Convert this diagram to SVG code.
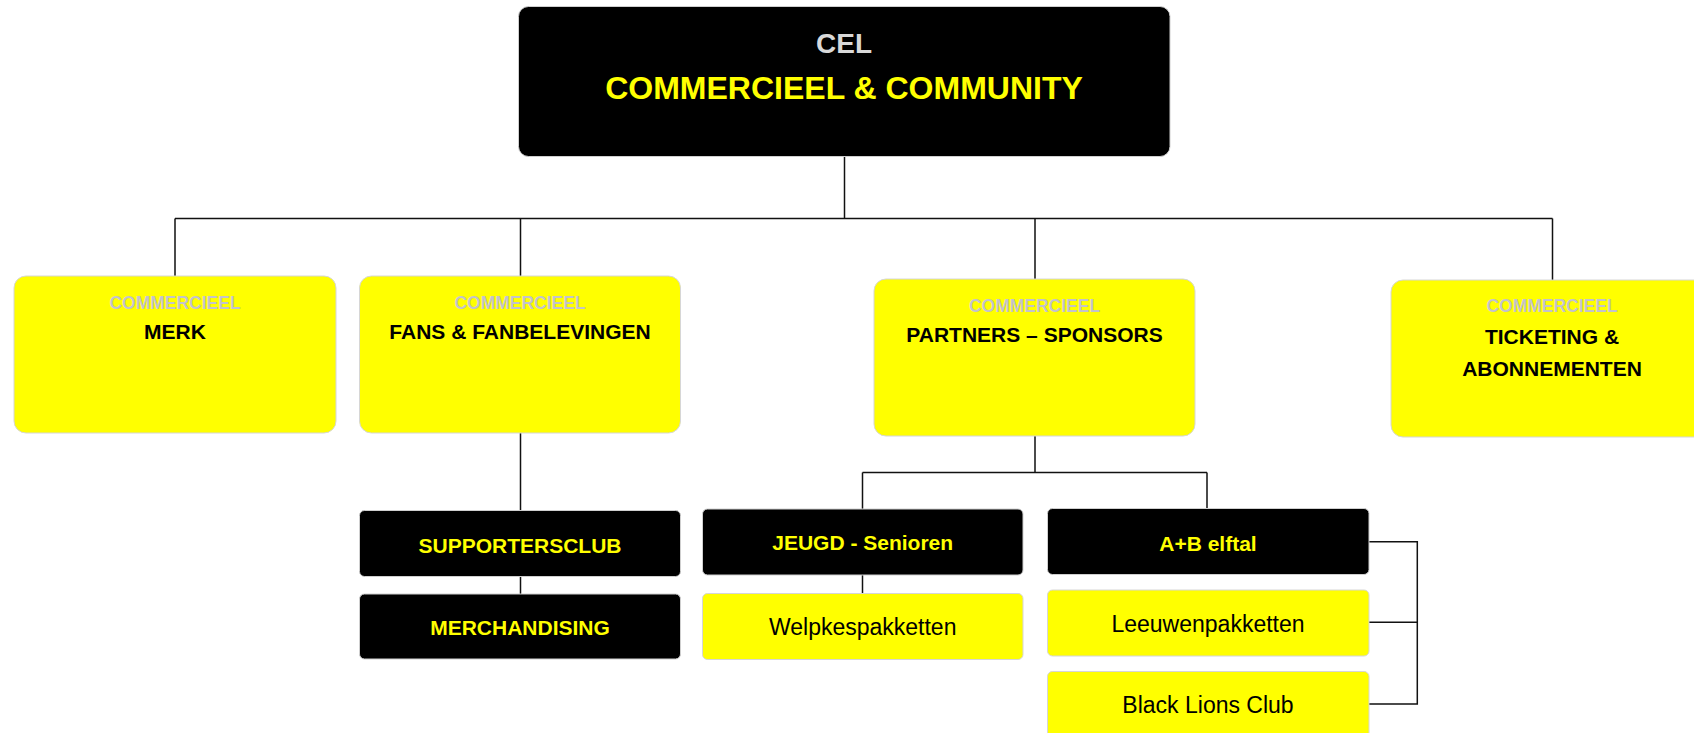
<svg xmlns="http://www.w3.org/2000/svg" width="1694" height="733" viewBox="0 0 1694 733">
<style>
text{font-family:"Liberation Sans",Arial,sans-serif;text-anchor:middle}
.y{fill:#ffff00;stroke:#d6d6d6;stroke-width:1}
.b{fill:#000;stroke:#cfcfcf;stroke-width:1}
.sub{font-size:17.5px;font-weight:bold;fill:#c3c3cb}
.ttl{font-size:21px;font-weight:bold;fill:#000}
.bt{font-size:21px;font-weight:bold;fill:#ffff00}
.rt{font-size:23px;fill:#000}
.ln{fill:none;stroke:#111;stroke-width:1.5}
</style>
<rect width="1694" height="733" fill="#fff"/>
<g id="connectors" class="ln">
<path d="M844.5 156.5V218.5"/>
<path d="M175 218.5H1552.5"/>
<path d="M175 218.5V276M520.5 218.5V276M1035 218.5V279M1552.5 218.5V280"/>
<path d="M520.5 433V510.5M520.5 576.5V594"/>
<path d="M1035 436V472.5M862.5 472.5H1207M862.5 472.5V509M1207 472.5V508.5"/>
<path d="M862.5 575V593.5"/>
<path d="M1369 541.7H1417.3V704H1369M1369 622.3H1417.3"/>
</g>
<g id="cel">
<rect x="518.5" y="6.5" width="651.5" height="150" rx="10" fill="#000" stroke="#cfcfcf"/>
<text x="844" y="53" style="font-size:28px;font-weight:bold;fill:#d9d9d9">CEL</text>
<text x="844" y="99" style="font-size:32px;font-weight:bold;fill:#ffff00">COMMERCIEEL &amp; COMMUNITY</text>
</g>
<g id="merk">
<rect class="y" x="14" y="276" width="322" height="157" rx="12"/>
<text class="sub" x="175" y="309">COMMERCIEEL</text>
<text class="ttl" x="175" y="339">MERK</text>
</g>
<g id="fans">
<rect class="y" x="359.5" y="276" width="321" height="157" rx="12"/>
<text class="sub" x="520" y="309">COMMERCIEEL</text>
<text class="ttl" x="520" y="339">FANS &amp; FANBELEVINGEN</text>
</g>
<g id="partners">
<rect class="y" x="874" y="279" width="321" height="157" rx="12"/>
<text class="sub" x="1034.5" y="311.7">COMMERCIEEL</text>
<text class="ttl" x="1034.5" y="341.7">PARTNERS – SPONSORS</text>
</g>
<g id="ticketing">
<rect class="y" x="1391" y="280" width="322" height="157" rx="12"/>
<text class="sub" x="1552" y="311.7">COMMERCIEEL</text>
<text class="ttl" x="1552" y="344">TICKETING &amp;</text>
<text class="ttl" x="1552" y="375.7">ABONNEMENTEN</text>
</g>
<g id="supportersclub">
<rect class="b" x="359.5" y="510.5" width="321" height="66" rx="5"/>
<text class="bt" x="520" y="552.7">SUPPORTERSCLUB</text>
</g>
<g id="merchandising">
<rect class="b" x="359.5" y="594" width="321" height="65" rx="5"/>
<text class="bt" x="520" y="635">MERCHANDISING</text>
</g>
<g id="jeugd">
<rect class="b" x="702.5" y="509" width="320.5" height="66" rx="5"/>
<text class="bt" x="862.7" y="550">JEUGD - Senioren</text>
</g>
<g id="welpkes">
<rect class="y" x="702.5" y="593.5" width="320.5" height="66" rx="5"/>
<text class="rt" x="862.7" y="635">Welpkespakketten</text>
</g>
<g id="ab">
<rect class="b" x="1047.5" y="508.5" width="321.5" height="66" rx="5"/>
<text class="bt" x="1208" y="550.7">A+B elftal</text>
</g>
<g id="leeuwen">
<rect class="y" x="1047.5" y="590" width="321.5" height="66" rx="5"/>
<text class="rt" x="1208" y="631.7">Leeuwenpakketten</text>
</g>
<g id="blacklions">
<rect class="y" x="1047.5" y="671.5" width="321.5" height="80" rx="5"/>
<text class="rt" x="1208" y="713.3">Black Lions Club</text>
</g>
</svg>
